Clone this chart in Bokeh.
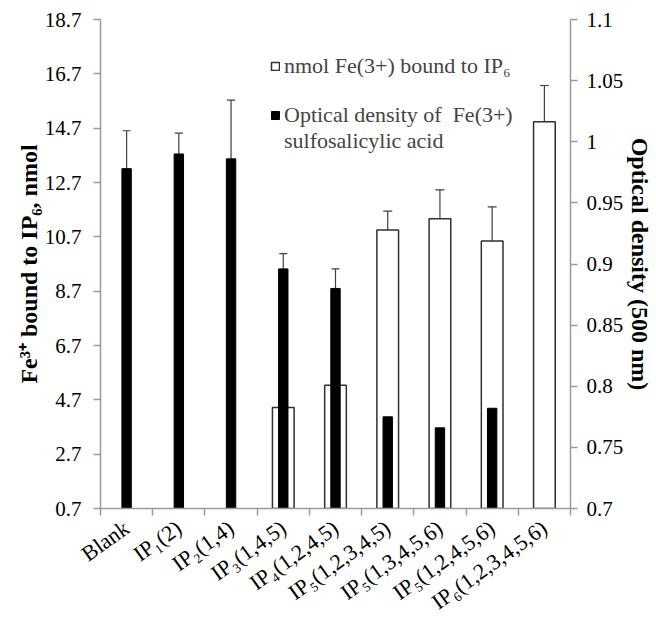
from bokeh.plotting import figure
from bokeh.models import (Range1d, LinearAxis, FixedTicker,
                          Whisker, ColumnDataSource, Legend, LegendItem, TeeHead)
from bokeh.embed import file_html
from bokeh.resources import INLINE

# ---------------- data ----------------
categories = ["Blank", "IP\u2081(2)", "IP\u2082(1,4)", "IP\u2083(1,4,5)", "IP\u2084(1,2,4,5)",
              "IP\u2085(1,2,3,4,5)", "IP\u2085(1,3,4,5,6)", "IP\u2085(1,2,4,5,6)", "IP\u2086(1,2,3,4,5,6)"]
fe_nmol = [None, None, None, 4.42, 5.24, 10.95, 11.37, 10.55, 14.94]
fe_nmol_err = [None, None, None, None, None, 0.70, 1.06, 1.25, 1.33]
optical_density = [0.978, 0.990, 0.986, 0.896, 0.880, 0.775, 0.766, 0.782, 0.700]
optical_density_err = [0.031, 0.017, 0.048, 0.0125, 0.016, 0.013, 0.020, 0.022, None]
left_ticks = [0.7, 2.7, 4.7, 6.7, 8.7, 10.7, 12.7, 14.7, 16.7, 18.7]
right_ticks = [0.7, 0.75, 0.8, 0.85, 0.9, 0.95, 1.0, 1.05, 1.1]

FONT = "Liberation Serif"
AXIS_GRAY = "#9a9a9a"
ERR_COLOR = "#404040"

n = len(categories)
slot_centers = [i + 0.5 for i in range(n)]      # category slots on a 0..n axis
slot_edges = list(range(n + 1))

# ---------------- sources ----------------
white_src = ColumnDataSource(dict(
    x=[c for c, v in zip(slot_centers, fe_nmol) if v is not None],
    top=[v for v in fe_nmol if v is not None]))
white_err_src = ColumnDataSource(dict(
    x=[c for c, e in zip(slot_centers, fe_nmol_err) if e is not None],
    upper=[v + e for v, e in zip(fe_nmol, fe_nmol_err) if e is not None],
    lower=[v - e for v, e in zip(fe_nmol, fe_nmol_err) if e is not None]))
black_src = ColumnDataSource(dict(x=slot_centers, top=optical_density))
black_err_src = ColumnDataSource(dict(
    x=[c for c, e in zip(slot_centers, optical_density_err) if e is not None],
    upper=[v + e for v, e in zip(optical_density, optical_density_err) if e is not None],
    lower=[v - e for v, e in zip(optical_density, optical_density_err) if e is not None]))

# ---------------- figure ----------------
p = figure(width=656, height=627, output_backend="svg", toolbar_location=None,
           x_range=Range1d(0, n),
           y_range=Range1d(left_ticks[0], left_ticks[-1]),
           x_axis_location=None, y_axis_location=None,
           min_border_left=100, min_border_right=86, min_border_top=19, min_border_bottom=119)
p.outline_line_color = None
p.xgrid.visible = False
p.ygrid.visible = False
p.extra_y_ranges = {"od": Range1d(right_ticks[0], right_ticks[-1])}

def style_axis(ax):
    ax.axis_line_color = AXIS_GRAY
    ax.axis_line_width = 1.5
    ax.major_tick_line_color = AXIS_GRAY
    ax.major_tick_line_width = 1.5
    ax.major_tick_in = 0
    ax.major_tick_out = 7
    ax.minor_tick_line_color = None
    ax.major_label_text_font = FONT
    ax.major_label_text_font_size = "21px"
    ax.major_label_text_color = "black"
    ax.axis_label_text_font = FONT
    ax.axis_label_text_font_style = "bold"
    ax.axis_label_text_font_size = "24px"
    ax.axis_label_text_color = "black"

# left axis
yl = LinearAxis(ticker=FixedTicker(ticks=left_ticks),
                axis_label="Fe\u00b3\u207a bound to IP\u2086, nmol")
style_axis(yl)
yl.major_label_overrides = {t: "{:g}".format(t) for t in left_ticks}
yl.major_label_standoff = 12
yl.axis_label_standoff = 0
p.add_layout(yl, "left")

# right axis
yr = LinearAxis(y_range_name="od", ticker=FixedTicker(ticks=right_ticks),
                axis_label="Optical density (500 nm)")
style_axis(yr)
yr.major_label_overrides = {t: "{:g}".format(t) for t in right_ticks}
yr.major_label_standoff = 9
yr.axis_label_standoff = 1
p.add_layout(yr, "right")

# bottom axis: labels at slot centres, tick marks at slot edges
xa = LinearAxis(ticker=FixedTicker(ticks=slot_centers, minor_ticks=slot_edges))
style_axis(xa)
xa.major_tick_line_color = None
xa.major_tick_out = 0
xa.minor_tick_line_color = AXIS_GRAY
xa.minor_tick_line_width = 1.5
xa.minor_tick_in = 0
xa.minor_tick_out = 7
xa.major_label_text_font_size = "22px"
xa.major_label_overrides = dict(zip(slot_centers, categories))
xa.major_label_standoff = 10
xa.major_label_orientation = 0.62
p.add_layout(xa, "below")

# ---------------- bars ----------------
white = p.vbar(x="x", top="top", bottom=left_ticks[0], width=0.415, source=white_src,
               fill_color="white", line_color="#303030", line_width=1.5)
black = p.vbar(x="x", top="top", bottom=right_ticks[0], width=0.18, source=black_src,
               fill_color="black", line_color="black", line_width=1, y_range_name="od")
# renderer used only to carry the second line of the legend text (draws nothing)
blank_src = ColumnDataSource(dict(x=[], top=[]))
spacer = p.vbar(x="x", top="top", bottom=right_ticks[0], width=0.18, source=blank_src,
                fill_alpha=0, line_alpha=0, y_range_name="od")

p.add_layout(Whisker(source=white_err_src, base="x", upper="upper", lower="lower",
                     line_color=ERR_COLOR, line_width=1.2,
                     upper_head=TeeHead(size=9, line_color=ERR_COLOR, line_width=1.2),
                     lower_head=TeeHead(size=9, line_color=ERR_COLOR, line_width=1.2)))
p.add_layout(Whisker(source=black_err_src, base="x", upper="upper", lower="lower",
                     y_range_name="od",
                     line_color=ERR_COLOR, line_width=1.2,
                     upper_head=TeeHead(size=8, line_color=ERR_COLOR, line_width=1.2),
                     lower_head=TeeHead(size=8, line_color=ERR_COLOR, line_width=1.2)))

# ---------------- legends ----------------
def make_legend(items, loc):
    lg = Legend(items=items, location=loc)
    lg.background_fill_alpha = 0
    lg.border_line_alpha = 0
    lg.label_text_font = FONT
    lg.label_text_font_size = "22px"
    lg.label_height = 23
    lg.glyph_width = 10
    lg.glyph_height = 10
    lg.label_standoff = 4
    lg.spacing = 0
    lg.padding = 0
    lg.margin = 0
    return lg

p.add_layout(make_legend([LegendItem(label="nmol Fe(3+) bound to IP\u2086", renderers=[white])],
                         (170, 429)))
p.add_layout(make_legend([LegendItem(label="Optical density of  Fe(3+)", renderers=[black]),
                          LegendItem(label="sulfosalicylic acid", renderers=[spacer])],
                         (170, 354)))

open("out.html", "w").write(file_html(p, INLINE))
